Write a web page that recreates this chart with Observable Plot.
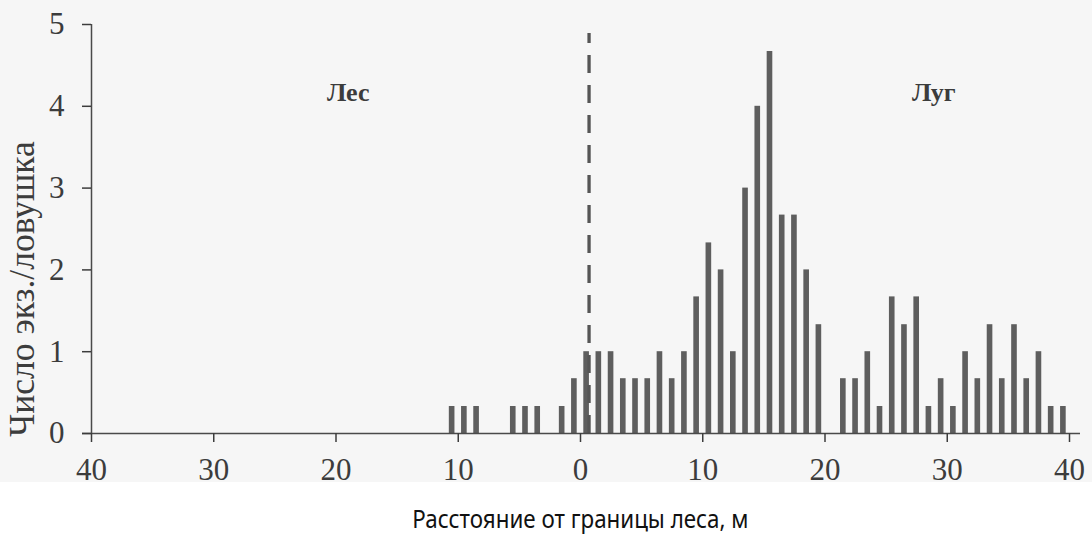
<!DOCTYPE html>
<html><head><meta charset="utf-8">
<script src="https://cdn.jsdelivr.net/npm/d3@7"></script>
<script src="https://cdn.jsdelivr.net/npm/@observablehq/plot@0.6"></script>
<style>
body{margin:0;background:#fff;}
#cap{width:1092px;box-sizing:border-box;padding-left:68px;padding-top:18px;text-align:center;font-family:"Noto Sans",sans-serif;font-size:26px;line-height:36px;color:#111;}
#cap span{display:inline-block;transform:scaleX(0.86);transform-origin:center;}
</style>
</head><body><div id="chart"></div><div id="cap"><span>Расстояние от границы леса, м</span></div>
<script>
const forestDistances = [-10.5, -9.5, -8.5, -5.5, -4.5, -3.5, -1.5, -0.5];
const forestValues = [0.33, 0.33, 0.33, 0.33, 0.33, 0.33, 0.33, 0.67];
const meadowDistances = [0.5, 1.5, 2.5, 3.5, 4.5, 5.5, 6.5, 7.5, 8.5, 9.5, 10.5, 11.5, 12.5, 13.5, 14.5, 15.5, 16.5, 17.5, 18.5, 19.5, 20.5, 21.5, 22.5, 23.5, 24.5, 25.5, 26.5, 27.5, 28.5, 29.5, 30.5, 31.5, 32.5, 33.5, 34.5, 35.5, 36.5, 37.5, 38.5, 39.5];
const meadowValues = [1, 1, 1, 0.67, 0.67, 0.67, 1, 0.67, 1, 1.67, 2.33, 2, 1, 3, 4, 4.67, 2.67, 2.67, 2, 1.33, 0, 0.67, 0.67, 1, 0.33, 1.67, 1.33, 1.67, 0.33, 0.67, 0.33, 1, 0.67, 1.33, 0.67, 1.33, 0.67, 1, 0.33, 0.33];
const yTicks = [0, 1, 2, 3, 4, 5];
const yTickLabels = ["0", "1", "2", "3", "4", "5"];
const xTicks = [-40, -30, -20, -10, 0, 10, 20, 30, 40];
const xTickLabels = ["40", "30", "20", "10", "0", "10", "20", "30", "40"];
const borderX = [0.7];
const borderTop = 4.89;
const yTitle = "Число экз./ловушка";
const forestLabel = "Лес";
const meadowLabel = "Луг";

const bars = forestDistances.map((d, i) => ({d, v: forestValues[i]}))
  .concat(meadowDistances.map((d, i) => ({d, v: meadowValues[i]})));

const serif = "'Liberation Serif', 'Times New Roman', serif";
const ink = "#3c3c3c";

const chart = Plot.plot({
  width: 1092, height: 482,
  marginLeft: 91, marginRight: 23, marginTop: 24, marginBottom: 49,
  style: {background: "#f6f6f6", fontFamily: serif, color: ink, overflow: "visible"},
  x: {domain: [-40, 40]},
  y: {domain: [0, 5]},
  marks: [
    Plot.rectY(bars, {x1: b => b.d - 0.5, x2: b => b.d + 0.5, y: "v", fill: "#5e5e5e", insetLeft: 3.3, insetRight: 3.3}),
    Plot.ruleX(borderX, {y1: 0, y2: borderTop, stroke: "#555", strokeWidth: 3.3, strokeDasharray: "18,12"}),
    Plot.ruleY([0], {stroke: "#4a4a4a", strokeWidth: 1.5, insetLeft: -9, insetRight: -11}),
    Plot.ruleX([-40], {y1: 0, y2: 5, stroke: "#4a4a4a", strokeWidth: 1.5}),
    Plot.axisX({ticks: xTicks, tickFormat: d => xTickLabels[xTicks.indexOf(d)], tickSize: 9, tickPadding: 15, fontSize: 31, fontFamily: serif, color: ink, strokeWidth: 1.5, label: null}),
    Plot.axisY({ticks: yTicks, tickFormat: d => yTickLabels[yTicks.indexOf(d)], tickSize: 9, tickPadding: 18, fontSize: 31, fontFamily: serif, color: ink, strokeWidth: 1.5, label: null}),
    Plot.text([yTitle], {frameAnchor: "left", dx: -68.5, dy: 60, rotate: -90, fontSize: 35.5, fontFamily: serif, fill: ink, textAnchor: "middle", lineAnchor: "middle"}),
    Plot.text([forestLabel], {x: -19, y: 4.17, fontSize: 26, fontWeight: "bold", fontFamily: serif, fill: ink}),
    Plot.text([meadowLabel], {x: 28.9, y: 4.17, fontSize: 26, fontWeight: "bold", fontFamily: serif, fill: ink})
  ]
});
document.getElementById("chart").appendChild(chart);
</script>
</body></html>
